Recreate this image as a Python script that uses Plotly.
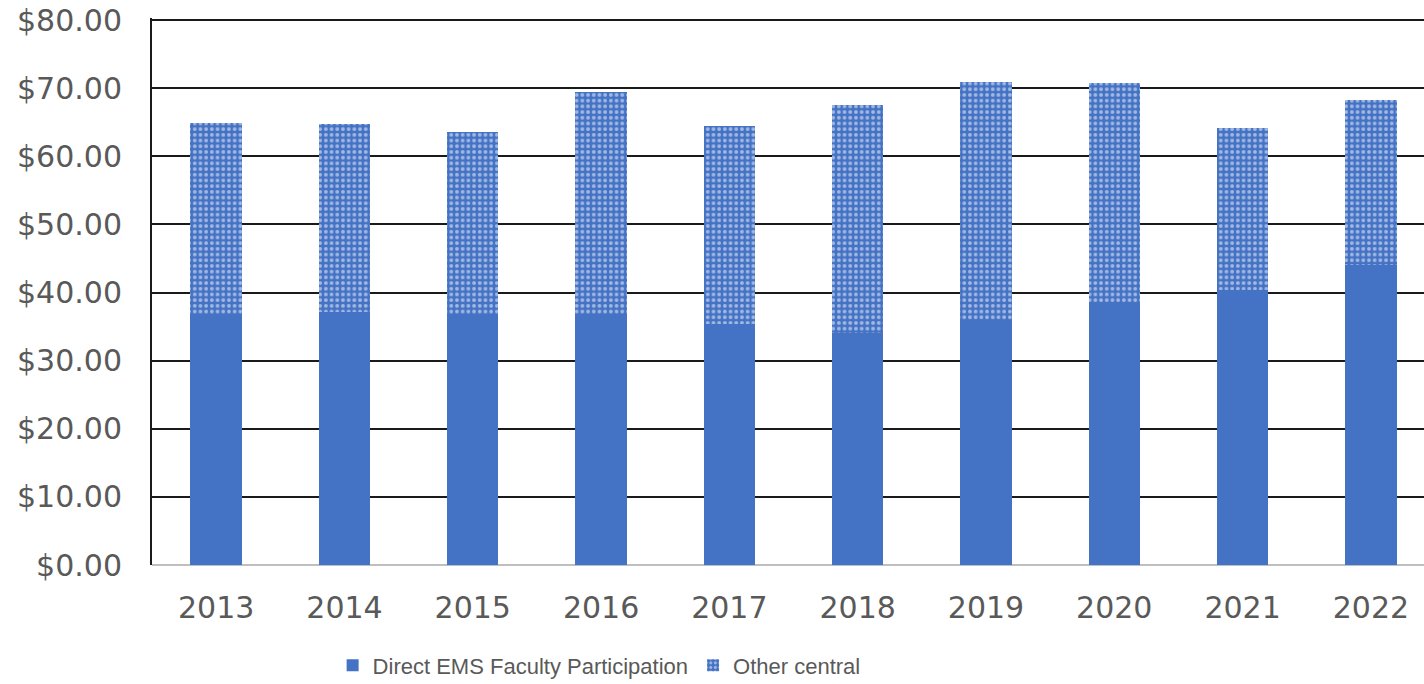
import plotly.graph_objects as go

years = ["2013", "2014", "2015", "2016", "2017", "2018", "2019", "2020", "2021", "2022"]
direct_ems = [36.9, 37.1, 36.9, 36.8, 35.4, 34.1, 35.9, 38.5, 40.4, 44.0]
other_central = [28.0, 27.6, 26.6, 32.6, 29.0, 33.4, 35.0, 32.3, 23.7, 24.3]
y_ticks = [0, 10, 20, 30, 40, 50, 60, 70, 80]
y_tick_labels = ["$0.00", "$10.00", "$20.00", "$30.00", "$40.00", "$50.00", "$60.00", "$70.00", "$80.00"]

BLUE = "#4472C4"
GREY_TXT = "#595959"

fig = go.Figure()
fig.add_trace(go.Bar(
    x=years, y=direct_ems, name="Direct EMS Faculty Participation",
    marker=dict(color=BLUE, line=dict(width=0)),
))
fig.add_trace(go.Bar(
    x=years, y=other_central, name="Other central",
    marker=dict(
        color=BLUE,
        line=dict(width=0),
        pattern=dict(shape=".", fgcolor="white", bgcolor=BLUE, size=5.7, solidity=0.35, fillmode="overlay"),
    ),
))

fig.update_layout(
    barmode="stack",
    bargap=0.6,
    width=1424, height=684,
    margin=dict(l=152, r=0, t=18, b=119, autoexpand=False),
    plot_bgcolor="white", paper_bgcolor="white",
    font=dict(family="DejaVu Sans", color=GREY_TXT, size=30),
    showlegend=True,
    legend=dict(
        orientation="h", xanchor="left", x=0.142, yanchor="middle", y=-0.1835,
        font=dict(family="Liberation Sans, Arial", size=22, color=GREY_TXT),
        itemwidth=30, traceorder="normal", bgcolor="rgba(0,0,0,0)",
    ),
)
fig.update_xaxes(
    type="category", range=[-0.5, 9.414], automargin=False,
    showgrid=False, showline=False, zeroline=False,
    ticks="", ticklabelstandoff=22, ticklabeloverflow="allow",
    tickfont=dict(family="DejaVu Sans", size=30, color=GREY_TXT),
)
fig.update_yaxes(
    range=[0, 80.3], tickvals=y_ticks, ticktext=y_tick_labels, automargin=False,
    showgrid=True, gridcolor="#1a1a1a", gridwidth=2,
    zeroline=True, zerolinecolor="#BFBFBF", zerolinewidth=2,
    showline=True, linecolor="#1a1a1a", linewidth=2,
    ticks="", ticklabelstandoff=22, ticklabeloverflow="allow",
    tickfont=dict(family="DejaVu Sans", size=30, color=GREY_TXT),
)

fig.write_html(
    "out.html",
    config={"displayModeBar": False},
    post_script="document.body.style.margin='0';document.body.style.overflow='hidden';",
)
